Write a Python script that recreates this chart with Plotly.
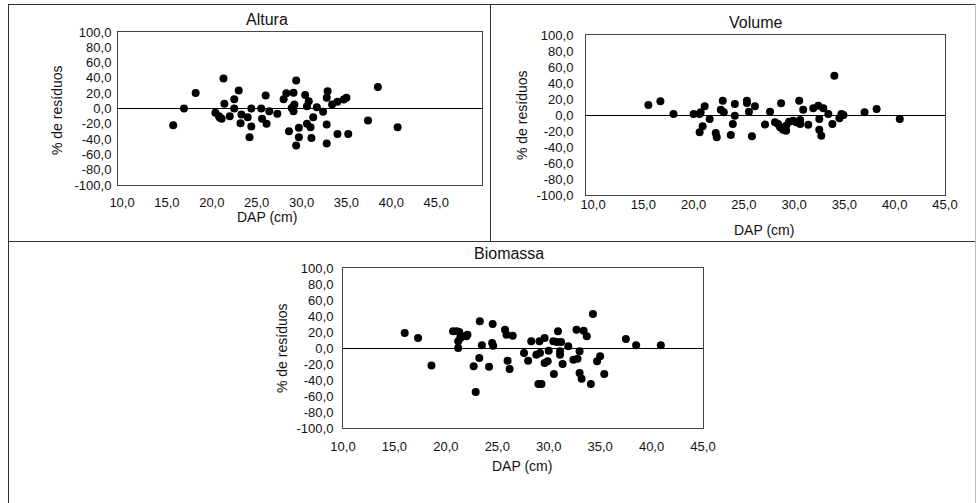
import plotly.graph_objects as go

# ---------------- data ----------------
altura_dap = [15.7, 16.9, 18.2, 21.3, 21.4, 20.4, 20.9, 21.1, 20.8, 22.0, 22.5, 23.0, 22.5, 23.3,
              23.2, 24.0, 24.4, 24.4, 24.2, 25.5, 25.6, 26.0, 26.1, 26.4, 27.3, 28.0, 28.3, 28.6,
              29.4, 29.1, 30.4, 32.9, 32.8, 29.2, 29.1, 28.9, 30.8, 30.6, 31.7, 32.4, 31.3, 33.4,
              34.0, 34.7, 35.0, 30.6, 31.0, 29.7, 29.7, 29.4, 31.1, 32.8, 32.8, 34.0, 35.2, 37.4,
              38.5, 40.7]
altura_res = [-21.8, 0.0, 20.1, 39.3, 6.1, -5.7, -12.2, -13.5, -10.0, -10.0, 12.2, 23.6, 0.0, -7.9,
              -19.2, -11.4, 0.0, -23.6, -37.6, 0.0, -13.5, 17.0, -20.0, -3.5, -7.0, 12.2, 20.0, -29.7,
              36.7, 20.5, 17.5, 22.7, 14.0, 5.2, -3.5, 0.5, 9.6, 3.0, 1.7, -4.4, -11.4, 5.2,
              8.7, 11.8, 14.0, -20.0, -24.5, -25.3, -37.6, -48.5, -38.4, -21.0, -45.9, -33.2, -33.2, -15.7,
              28.0, -24.5]

volume_dap = [15.5, 16.7, 18.0, 20.0, 20.6, 20.7, 21.1, 21.6, 20.9, 20.6, 22.2, 22.3, 22.9, 22.7,
              23.0, 23.7, 24.1, 24.1, 23.9, 25.3, 25.3, 25.5, 26.1, 25.8, 27.1, 27.6, 28.1, 28.4,
              28.6, 28.9, 29.2, 29.2, 29.5, 29.9, 30.2, 30.6, 30.6, 28.7, 30.5, 30.9, 31.4, 31.9,
              32.4, 32.9, 32.5, 32.5, 32.7, 33.4, 33.8, 34.0, 34.5, 34.7, 34.9, 37.0, 38.2, 40.5]
volume_res = [12.5, 17.1, 1.2, 1.2, 1.2, 3.3, 10.8, -5.0, -14.2, -21.7, -22.5, -27.9, 17.9, 6.7,
              3.3, -25.0, 13.8, -0.8, -11.3, 17.9, 15.0, 4.2, 10.8, -26.7, -12.0, 4.2, -9.2, -11.3,
              -15.4, -18.3, -19.6, -13.3, -8.3, -7.1, -9.2, -11.3, -6.3, 14.6, 17.9, 6.7, -12.1, 8.3,
              11.7, 8.3, -5.0, -18.3, -25.8, 1.2, -11.3, 49.2, -4.2, 1.2, 0.0, 3.3, 7.5, -5.0]

biomassa_dap = [16.0, 17.3, 18.6, 20.7, 21.05, 21.3, 21.4, 21.6, 22.0, 22.1, 21.2, 21.2, 23.3, 23.5,
                23.25, 22.7, 22.9, 24.55, 24.5, 24.6, 24.2, 25.75, 25.9, 26.5, 26.0, 26.2, 27.6, 28.0,
                28.3, 28.8, 29.15, 29.1, 29.6, 29.6, 29.9, 30.0, 29.0, 29.3, 30.5, 30.9, 30.45, 30.8,
                31.2, 31.1, 31.1, 31.35, 31.9, 32.7, 33.4, 33.7, 32.4, 32.8, 33.0, 33.0, 33.2, 34.1,
                34.3, 34.7, 35.0, 35.4, 37.5, 38.5, 40.9]
biomassa_res = [18.8, 12.5, -22.0, 20.8, 20.8, 20.0, 12.5, 14.6, 14.6, 16.7, 8.3, 0.0, 33.3, 3.3,
                -12.5, -22.9, -55.0, 30.0, 6.3, 2.9, -23.3, 22.9, 16.7, 15.4, -15.8, -26.3, -6.3, -15.8,
                8.3, -8.3, -6.3, 8.3, 12.5, -18.8, -16.7, -3.3, -45.0, -45.0, -32.5, 20.8, 8.3, 7.5,
                7.5, -4.2, -8.3, -20.0, 2.1, 22.9, 21.7, 14.6, -14.6, -13.3, -4.2, -31.3, -38.3, -45.0,
                42.5, -16.7, -10.4, -32.5, 11.3, 3.3, 3.3]

x_tick_vals = [10, 15, 20, 25, 30, 35, 40, 45]
x_tick_labels = ["10,0", "15,0", "20,0", "25,0", "30,0", "35,0", "40,0", "45,0"]
y_tick_vals = [-100, -80, -60, -40, -20, 0, 20, 40, 60, 80, 100]
y_tick_labels = ["-100,0", "-80,0", "-60,0", "-40,0", "-20,0", "0,0", "20,0", "40,0", "60,0", "80,0", "100,0"]

panel_titles = ["Altura", "Volume", "Biomassa"]
x_title = "DAP (cm)"
y_title = "% de resíduos"

# ---------------- layout helpers ----------------
W, H = 977, 503
FONT = "Liberation Sans, Arial, sans-serif"
TXT = "#111111"
TICK_SIZE = 13


def px(x):
    return x / W


def py(y):
    return 1 - y / H


fig = go.Figure()

series = [(altura_dap, altura_res), (volume_dap, volume_res), (biomassa_dap, biomassa_res)]
for i, (xs, ys) in enumerate(series):
    sfx = "" if i == 0 else str(i + 1)
    fig.add_trace(go.Scatter(
        x=xs, y=ys, mode="markers",
        marker=dict(color="#000000", size=8, line=dict(width=0)),
        xaxis="x" + sfx, yaxis="y" + sfx, showlegend=False, hoverinfo="x+y",
    ))

# panel geometry (pixels): box left, right, top, bottom, x range, label standoffs
panels = [
    dict(l=118, r=482, t=32, b=185, xr=[9.55, 50.1], ystand=3, xstand=5),
    dict(l=586, r=945, t=35, b=195, xr=[9.3, 45.0], ystand=9, xstand=-3),
    dict(l=343, r=703, t=268, b=428, xr=[10.0, 45.0], ystand=6, xstand=6),
]

layout = dict(
    width=W, height=H,
    margin=dict(l=0, r=0, t=0, b=0),
    paper_bgcolor="white", plot_bgcolor="white",
    font=dict(family=FONT, color=TXT, size=TICK_SIZE),
    showlegend=False,
)

for i, p in enumerate(panels):
    sfx = "" if i == 0 else str(i + 1)
    anchor_y = "y" + sfx
    anchor_x = "x" + sfx
    layout["xaxis" + sfx] = dict(
        domain=[px(p["l"]), px(p["r"])], range=p["xr"], anchor=anchor_y,
        tickmode="array", tickvals=x_tick_vals, ticktext=x_tick_labels,
        showgrid=False, zeroline=False, showline=True, mirror=True,
        linecolor="#444444", linewidth=1, ticks="",
        ticklabelstandoff=p["xstand"], automargin=False,
        tickfont=dict(family=FONT, size=TICK_SIZE, color=TXT),
        fixedrange=True,
    )
    layout["yaxis" + sfx] = dict(
        domain=[py(p["b"]), py(p["t"])], range=[-100, 100], anchor=anchor_x,
        tickmode="array", tickvals=y_tick_vals, ticktext=y_tick_labels,
        showgrid=False, zeroline=True, zerolinecolor="#000000", zerolinewidth=1,
        showline=True, mirror=True, linecolor="#444444", linewidth=1, ticks="",
        ticklabelstandoff=p["ystand"], automargin=False,
        tickfont=dict(family=FONT, size=TICK_SIZE, color=TXT),
        fixedrange=True,
    )

fig.update_layout(**layout)

# titles and axis titles as annotations
title_pos = [(267, 19), (755, 22), (509, 253)]
xlab_pos = [(267, 217), (764, 230), (522, 466)]
ylab_pos = [(57, 110), (522, 115), (282, 348)]
for i in range(3):
    tx, ty = title_pos[i]
    fig.add_annotation(x=px(tx), y=py(ty), xref="paper", yref="paper", text=panel_titles[i],
                       showarrow=False, xanchor="center", yanchor="middle",
                       font=dict(family=FONT, size=16, color=TXT))
    ax_, ay_ = xlab_pos[i]
    fig.add_annotation(x=px(ax_), y=py(ay_), xref="paper", yref="paper", text=x_title,
                       showarrow=False, xanchor="center", yanchor="middle",
                       font=dict(family=FONT, size=14, color=TXT))
    lx, ly = ylab_pos[i]
    fig.add_annotation(x=px(lx), y=py(ly), xref="paper", yref="paper", text=y_title,
                       showarrow=False, xanchor="center", yanchor="middle", textangle=-90,
                       font=dict(family=FONT, size=14, color=TXT))

# table-like cell borders
border = dict(color="#333333", width=1)
shapes = [
    dict(type="line", xref="paper", yref="paper", x0=px(8), x1=px(976), y0=py(4.5), y1=py(4.5), line=border),
    dict(type="line", xref="paper", yref="paper", x0=px(8.5), x1=px(8.5), y0=py(4), y1=py(503), line=border),
    dict(type="line", xref="paper", yref="paper", x0=px(490.5), x1=px(490.5), y0=py(4), y1=py(241.5), line=border),
    dict(type="line", xref="paper", yref="paper", x0=px(8), x1=px(976), y0=py(241.5), y1=py(241.5), line=border),
    dict(type="line", xref="paper", yref="paper", x0=px(975.5), x1=px(975.5), y0=py(4), y1=py(503),
         line=dict(color="#bbbbbb", width=1)),
]
fig.update_layout(shapes=shapes)

fig.write_html(
    "out.html",
    config={"displayModeBar": False, "responsive": False},
    post_script="document.documentElement.style.margin='0';document.body.style.margin='0';"
                "document.body.style.padding='0';document.body.style.overflow='hidden';"
                "document.documentElement.style.overflow='hidden';",
)
